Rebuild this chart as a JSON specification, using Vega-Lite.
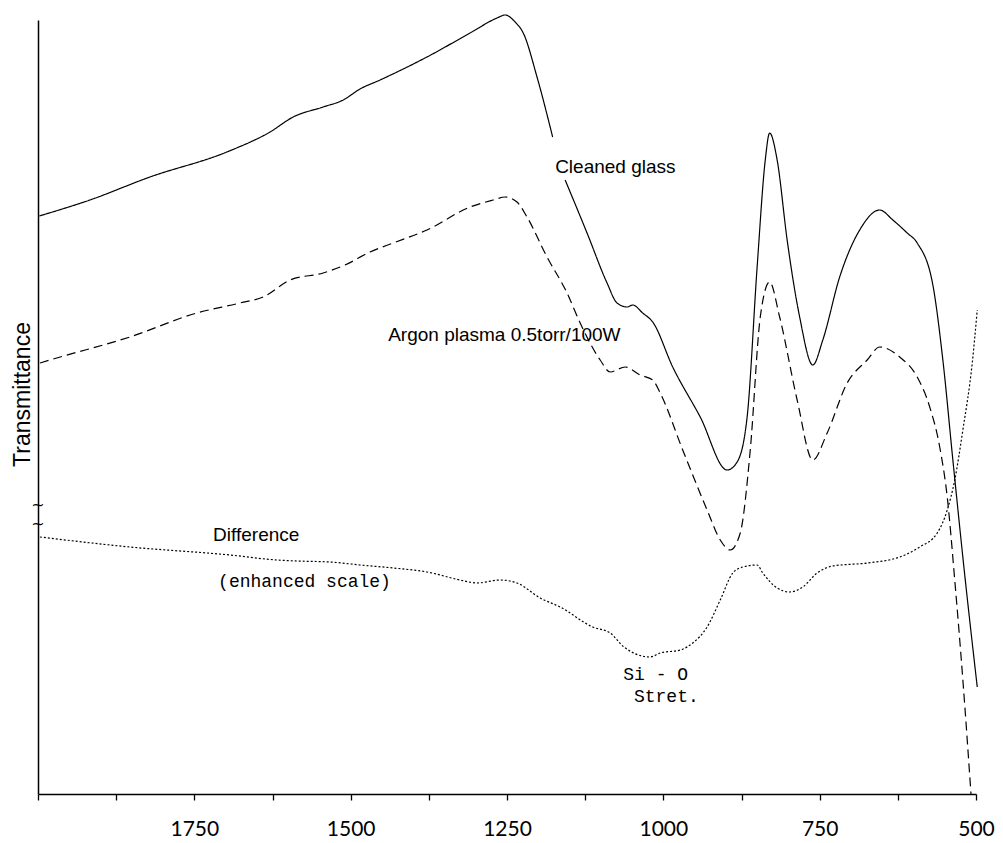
{
  "$schema": "https://vega.github.io/schema/vega-lite/v6.json",
  "width": 938,
  "height": 774,
  "autosize": {"type": "none"},
  "padding": {"left": 38, "top": 20, "right": 27, "bottom": 49},
  "background": "white",
  "config": {"view": {"stroke": null}},
  "datasets": {
    "curves": [
      {"series": "Cleaned glass", "part": "a", "wn": 1998, "t": 578},
      {"series": "Cleaned glass", "part": "a", "wn": 1917, "t": 594},
      {"series": "Cleaned glass", "part": "a", "wn": 1821, "t": 617},
      {"series": "Cleaned glass", "part": "a", "wn": 1698, "t": 642},
      {"series": "Cleaned glass", "part": "a", "wn": 1629, "t": 662},
      {"series": "Cleaned glass", "part": "a", "wn": 1592, "t": 677},
      {"series": "Cleaned glass", "part": "a", "wn": 1544, "t": 687},
      {"series": "Cleaned glass", "part": "a", "wn": 1512, "t": 694},
      {"series": "Cleaned glass", "part": "a", "wn": 1485, "t": 705},
      {"series": "Cleaned glass", "part": "a", "wn": 1453, "t": 714},
      {"series": "Cleaned glass", "part": "a", "wn": 1378, "t": 737},
      {"series": "Cleaned glass", "part": "a", "wn": 1309, "t": 761},
      {"series": "Cleaned glass", "part": "a", "wn": 1266, "t": 776},
      {"series": "Cleaned glass", "part": "a", "wn": 1253, "t": 779},
      {"series": "Cleaned glass", "part": "a", "wn": 1237, "t": 772},
      {"series": "Cleaned glass", "part": "a", "wn": 1224, "t": 761},
      {"series": "Cleaned glass", "part": "a", "wn": 1202, "t": 717},
      {"series": "Cleaned glass", "part": "a", "wn": 1177, "t": 657},
      {"series": "Cleaned glass", "part": "b", "wn": 1157, "t": 614},
      {"series": "Cleaned glass", "part": "b", "wn": 1122, "t": 561},
      {"series": "Cleaned glass", "part": "b", "wn": 1090, "t": 511},
      {"series": "Cleaned glass", "part": "b", "wn": 1074, "t": 491},
      {"series": "Cleaned glass", "part": "b", "wn": 1058, "t": 487},
      {"series": "Cleaned glass", "part": "b", "wn": 1049, "t": 489},
      {"series": "Cleaned glass", "part": "b", "wn": 1033, "t": 481},
      {"series": "Cleaned glass", "part": "b", "wn": 1017, "t": 472},
      {"series": "Cleaned glass", "part": "b", "wn": 985, "t": 427},
      {"series": "Cleaned glass", "part": "b", "wn": 941, "t": 377},
      {"series": "Cleaned glass", "part": "b", "wn": 898, "t": 324},
      {"series": "Cleaned glass", "part": "b", "wn": 882, "t": 332},
      {"series": "Cleaned glass", "part": "b", "wn": 866, "t": 377},
      {"series": "Cleaned glass", "part": "b", "wn": 850, "t": 527},
      {"series": "Cleaned glass", "part": "b", "wn": 837, "t": 634},
      {"series": "Cleaned glass", "part": "b", "wn": 830, "t": 661},
      {"series": "Cleaned glass", "part": "b", "wn": 818, "t": 634},
      {"series": "Cleaned glass", "part": "b", "wn": 802, "t": 554},
      {"series": "Cleaned glass", "part": "b", "wn": 782, "t": 477},
      {"series": "Cleaned glass", "part": "b", "wn": 761, "t": 429},
      {"series": "Cleaned glass", "part": "b", "wn": 745, "t": 454},
      {"series": "Cleaned glass", "part": "b", "wn": 718, "t": 517},
      {"series": "Cleaned glass", "part": "b", "wn": 686, "t": 564},
      {"series": "Cleaned glass", "part": "b", "wn": 654, "t": 584},
      {"series": "Cleaned glass", "part": "b", "wn": 633, "t": 574},
      {"series": "Cleaned glass", "part": "b", "wn": 610, "t": 561},
      {"series": "Cleaned glass", "part": "b", "wn": 594, "t": 551},
      {"series": "Cleaned glass", "part": "b", "wn": 569, "t": 509},
      {"series": "Cleaned glass", "part": "b", "wn": 553, "t": 434},
      {"series": "Cleaned glass", "part": "b", "wn": 537, "t": 334},
      {"series": "Cleaned glass", "part": "b", "wn": 518, "t": 219},
      {"series": "Cleaned glass", "part": "b", "wn": 498, "t": 107},

      {"series": "Argon plasma", "part": "c", "wn": 1997, "t": 431},
      {"series": "Argon plasma", "part": "c", "wn": 1970, "t": 436},
      {"series": "Argon plasma", "part": "c", "wn": 1853, "t": 457},
      {"series": "Argon plasma", "part": "c", "wn": 1746, "t": 481},
      {"series": "Argon plasma", "part": "c", "wn": 1677, "t": 491},
      {"series": "Argon plasma", "part": "c", "wn": 1640, "t": 497},
      {"series": "Argon plasma", "part": "c", "wn": 1597, "t": 514},
      {"series": "Argon plasma", "part": "c", "wn": 1544, "t": 521},
      {"series": "Argon plasma", "part": "c", "wn": 1509, "t": 529},
      {"series": "Argon plasma", "part": "c", "wn": 1469, "t": 542},
      {"series": "Argon plasma", "part": "c", "wn": 1432, "t": 551},
      {"series": "Argon plasma", "part": "c", "wn": 1378, "t": 564},
      {"series": "Argon plasma", "part": "c", "wn": 1309, "t": 587},
      {"series": "Argon plasma", "part": "c", "wn": 1272, "t": 594},
      {"series": "Argon plasma", "part": "c", "wn": 1253, "t": 597},
      {"series": "Argon plasma", "part": "c", "wn": 1234, "t": 592},
      {"series": "Argon plasma", "part": "c", "wn": 1218, "t": 577},
      {"series": "Argon plasma", "part": "c", "wn": 1186, "t": 537},
      {"series": "Argon plasma", "part": "c", "wn": 1154, "t": 501},
      {"series": "Argon plasma", "part": "c", "wn": 1133, "t": 471},
      {"series": "Argon plasma", "part": "c", "wn": 1101, "t": 434},
      {"series": "Argon plasma", "part": "c", "wn": 1085, "t": 422},
      {"series": "Argon plasma", "part": "c", "wn": 1061, "t": 427},
      {"series": "Argon plasma", "part": "c", "wn": 1037, "t": 419},
      {"series": "Argon plasma", "part": "c", "wn": 1017, "t": 414},
      {"series": "Argon plasma", "part": "c", "wn": 1005, "t": 401},
      {"series": "Argon plasma", "part": "c", "wn": 969, "t": 344},
      {"series": "Argon plasma", "part": "c", "wn": 930, "t": 284},
      {"series": "Argon plasma", "part": "c", "wn": 909, "t": 254},
      {"series": "Argon plasma", "part": "c", "wn": 893, "t": 244},
      {"series": "Argon plasma", "part": "c", "wn": 877, "t": 261},
      {"series": "Argon plasma", "part": "c", "wn": 861, "t": 344},
      {"series": "Argon plasma", "part": "c", "wn": 845, "t": 477},
      {"series": "Argon plasma", "part": "c", "wn": 830, "t": 512},
      {"series": "Argon plasma", "part": "c", "wn": 814, "t": 477},
      {"series": "Argon plasma", "part": "c", "wn": 786, "t": 394},
      {"series": "Argon plasma", "part": "c", "wn": 761, "t": 334},
      {"series": "Argon plasma", "part": "c", "wn": 738, "t": 361},
      {"series": "Argon plasma", "part": "c", "wn": 706, "t": 411},
      {"series": "Argon plasma", "part": "c", "wn": 674, "t": 434},
      {"series": "Argon plasma", "part": "c", "wn": 654, "t": 447},
      {"series": "Argon plasma", "part": "c", "wn": 622, "t": 437},
      {"series": "Argon plasma", "part": "c", "wn": 594, "t": 417},
      {"series": "Argon plasma", "part": "c", "wn": 574, "t": 387},
      {"series": "Argon plasma", "part": "c", "wn": 558, "t": 347},
      {"series": "Argon plasma", "part": "c", "wn": 546, "t": 297},
      {"series": "Argon plasma", "part": "c", "wn": 534, "t": 214},
      {"series": "Argon plasma", "part": "c", "wn": 521, "t": 114},
      {"series": "Argon plasma", "part": "c", "wn": 508, "t": 0},

      {"series": "Difference", "part": "d", "wn": 1997, "t": 257},
      {"series": "Difference", "part": "d", "wn": 1853, "t": 247},
      {"series": "Difference", "part": "d", "wn": 1693, "t": 239},
      {"series": "Difference", "part": "d", "wn": 1618, "t": 234},
      {"series": "Difference", "part": "d", "wn": 1586, "t": 233},
      {"series": "Difference", "part": "d", "wn": 1533, "t": 232},
      {"series": "Difference", "part": "d", "wn": 1485, "t": 229},
      {"series": "Difference", "part": "d", "wn": 1432, "t": 226},
      {"series": "Difference", "part": "d", "wn": 1378, "t": 222},
      {"series": "Difference", "part": "d", "wn": 1325, "t": 214},
      {"series": "Difference", "part": "d", "wn": 1298, "t": 211},
      {"series": "Difference", "part": "d", "wn": 1261, "t": 214},
      {"series": "Difference", "part": "d", "wn": 1234, "t": 211},
      {"series": "Difference", "part": "d", "wn": 1197, "t": 196},
      {"series": "Difference", "part": "d", "wn": 1165, "t": 187},
      {"series": "Difference", "part": "d", "wn": 1113, "t": 167},
      {"series": "Difference", "part": "d", "wn": 1085, "t": 161},
      {"series": "Difference", "part": "d", "wn": 1063, "t": 147},
      {"series": "Difference", "part": "d", "wn": 1021, "t": 137},
      {"series": "Difference", "part": "d", "wn": 1005, "t": 141},
      {"series": "Difference", "part": "d", "wn": 973, "t": 144},
      {"series": "Difference", "part": "d", "wn": 953, "t": 151},
      {"series": "Difference", "part": "d", "wn": 930, "t": 167},
      {"series": "Difference", "part": "d", "wn": 909, "t": 194},
      {"series": "Difference", "part": "d", "wn": 889, "t": 221},
      {"series": "Difference", "part": "d", "wn": 873, "t": 227},
      {"series": "Difference", "part": "d", "wn": 850, "t": 229},
      {"series": "Difference", "part": "d", "wn": 841, "t": 221},
      {"series": "Difference", "part": "d", "wn": 818, "t": 206},
      {"series": "Difference", "part": "d", "wn": 798, "t": 202},
      {"series": "Difference", "part": "d", "wn": 777, "t": 207},
      {"series": "Difference", "part": "d", "wn": 754, "t": 221},
      {"series": "Difference", "part": "d", "wn": 729, "t": 228},
      {"series": "Difference", "part": "d", "wn": 674, "t": 231},
      {"series": "Difference", "part": "d", "wn": 622, "t": 237},
      {"series": "Difference", "part": "d", "wn": 590, "t": 247},
      {"series": "Difference", "part": "d", "wn": 562, "t": 261},
      {"series": "Difference", "part": "d", "wn": 546, "t": 284},
      {"series": "Difference", "part": "d", "wn": 534, "t": 314},
      {"series": "Difference", "part": "d", "wn": 521, "t": 364},
      {"series": "Difference", "part": "d", "wn": 506, "t": 431},
      {"series": "Difference", "part": "d", "wn": 498, "t": 484}
    ],
    "sansLabels": [
      {"label": "Cleaned glass", "wn": 1173, "t": 627},
      {"label": "Argon plasma 0.5torr/100W", "wn": 1440, "t": 459},
      {"label": "Difference", "wn": 1720, "t": 259}
    ],
    "monoLabels": [
      {"label": "(enhanced scale)", "wn": 1712, "t": 212},
      {"label": "Si - O", "wn": 1064, "t": 119},
      {"label": "Stret.", "wn": 1047, "t": 97}
    ],
    "breaks": [
      {"label": "~\n~", "wn": 2000, "t": 289}
    ]
  },
  "layer": [
    {
      "data": {"name": "curves"},
      "mark": {"type": "line", "interpolate": "monotone", "color": "black", "strokeWidth": 1.2, "clip": false},
      "encoding": {
        "x": {
          "field": "wn", "type": "quantitative",
          "scale": {"domain": [500, 2000], "reverse": true, "nice": false, "zero": false},
          "axis": {
            "title": null,
            "values": [500, 562.5, 625, 687.5, 750, 812.5, 875, 937.5, 1000, 1062.5, 1125, 1187.5, 1250, 1312.5, 1375, 1437.5, 1500, 1562.5, 1625, 1687.5, 1750, 1812.5, 1875, 1937.5, 2000],
            "format": "d",
            "labelExpr": "(datum.value % 250 == 0 && datum.value < 2000) ? datum.label : ''",
            "grid": false,
            "domainColor": "black",
            "domainWidth": 1.5,
            "tickColor": "black",
            "tickWidth": 1.3,
            "tickSize": 6,
            "labelFont": "Lato",
            "labelFontSize": 21,
            "labelColor": "black",
            "labelPadding": 18,
            "labelOverlap": false,
            "labelBound": false,
            "labelFlush": false
          }
        },
        "y": {
          "field": "t", "type": "quantitative",
          "scale": {"domain": [0, 774], "nice": false, "zero": false},
          "axis": {
            "title": "Transmittance",
            "titleFont": "Liberation Sans",
            "titleFontSize": 23,
            "titleFontWeight": "normal",
            "titleColor": "black",
            "titleX": -16,
            "titleY": 374,
            "titleAngle": 270,
            "titleAlign": "center",
            "titleBaseline": "middle",
            "ticks": false,
            "labels": false,
            "grid": false,
            "domainColor": "black",
            "domainWidth": 1.5
          }
        },
        "detail": {"field": "part"},
        "strokeDash": {
          "field": "series", "type": "nominal",
          "scale": {"domain": ["Cleaned glass", "Argon plasma", "Difference"], "range": [[1, 0], [9, 5], [2, 2]]},
          "legend": null
        },
        "order": {"field": "wn", "sort": "descending"}
      }
    },
    {
      "data": {"name": "sansLabels"},
      "mark": {"type": "text", "font": "Liberation Sans", "fontSize": 19, "align": "left", "baseline": "middle", "color": "black"},
      "encoding": {
        "x": {"field": "wn", "type": "quantitative"},
        "y": {"field": "t", "type": "quantitative"},
        "text": {"field": "label"}
      }
    },
    {
      "data": {"name": "monoLabels"},
      "mark": {"type": "text", "font": "Liberation Mono", "fontSize": 18, "align": "left", "baseline": "middle", "color": "black"},
      "encoding": {
        "x": {"field": "wn", "type": "quantitative"},
        "y": {"field": "t", "type": "quantitative"},
        "text": {"field": "label"}
      }
    },
    {
      "data": {"name": "breaks"},
      "mark": {"type": "text", "font": "DejaVu Sans", "fontSize": 16, "align": "center", "baseline": "middle", "lineBreak": "\n", "lineHeight": 19, "color": "black"},
      "encoding": {
        "x": {"field": "wn", "type": "quantitative"},
        "y": {"field": "t", "type": "quantitative"},
        "text": {"field": "label"}
      }
    }
  ]
}
